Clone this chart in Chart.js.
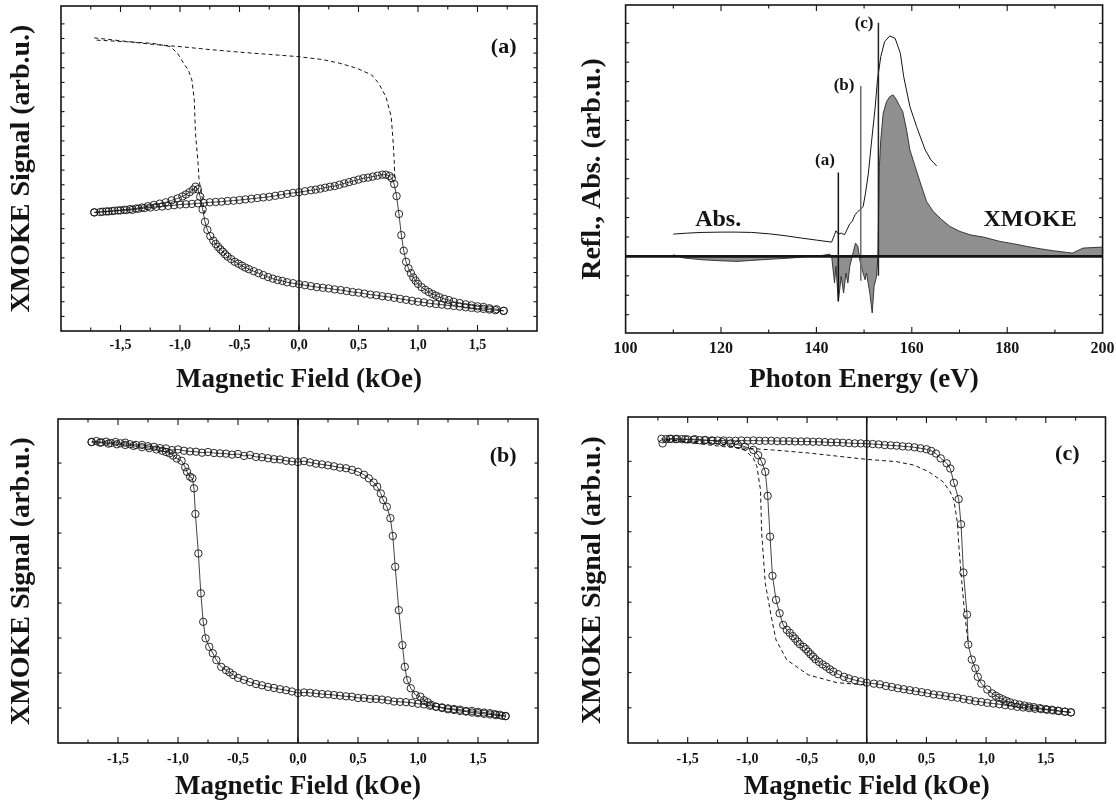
<!DOCTYPE html>
<html>
<head>
<meta charset="utf-8">
<script src="https://cdn.jsdelivr.net/npm/chart.js@4.4.1/dist/chart.umd.min.js"></script>
<style>
  html, body { margin: 0; padding: 0; background: #fff; }
  #wrap { position: relative; width: 1116px; height: 802px; }
  canvas { position: absolute; }
</style>
</head>
<body>
<div id="wrap">
  <canvas id="loopA" width="558" height="400" style="left:0;top:0"></canvas>
  <canvas id="spec" width="558" height="400" style="left:558px;top:0"></canvas>
  <canvas id="loopB" width="558" height="402" style="left:0;top:400px"></canvas>
  <canvas id="loopC" width="558" height="402" style="left:558px;top:400px"></canvas>
</div>
<script>
// --- panel (a): field (kOe) and signal (arb.u.) ---
const aUpH = [-1.72,-1.67,-1.62,-1.57,-1.52,-1.47,-1.42,-1.37,-1.32,-1.27,-1.22,-1.17,-1.12,-1.07,-1.02,
  -0.98,-0.95,-0.92,-0.89,-0.87,-0.85,-0.83,-0.81,-0.79,-0.77,-0.745,-0.72,-0.70,-0.68,-0.66,-0.64,-0.62,-0.60,
  -0.57,-0.54,-0.51,-0.48,-0.45,-0.42,-0.38,-0.34,-0.30,-0.26,-0.22,-0.18,-0.14,-0.10,
  -0.05,0,0.05,0.10,0.15,0.20,0.25,0.30,0.35,0.40,0.45,0.50,0.55,0.60,0.65,0.70,0.75,0.80,0.85,0.90,0.95,
  1.00,1.05,1.10,1.15,1.20,1.25,1.30,1.35,1.40,1.45,1.50,1.55,1.60,1.65,1.72];
const aUpS = [36.5,36.6,36.8,36.9,37.1,37.3,37.5,37.7,38.0,38.4,38.8,39.2,39.6,40.2,40.8,
  41.4,42.0,42.7,43.5,44.4,43.6,41.3,37.4,33.6,31.1,29.2,27.8,26.8,25.9,25.1,24.4,23.6,22.9,
  22.1,21.3,20.7,20.1,19.5,19.0,18.4,17.8,17.2,16.6,16.1,15.7,15.4,15.0,
  14.7,14.4,14.1,13.8,13.5,13.3,13.1,12.8,12.6,12.3,12.0,11.8,11.5,11.2,11.0,10.7,10.5,10.2,9.9,9.6,9.3,
  9.0,8.8,8.5,8.3,8.1,7.9,7.7,7.5,7.3,7.1,6.9,6.8,6.6,6.4,6.2];
const aDownH = [1.72,1.66,1.60,1.55,1.50,1.45,1.40,1.35,1.30,1.26,1.22,1.18,1.15,1.12,1.09,1.06,1.03,1.00,
  0.98,0.96,0.94,0.92,0.90,0.88,0.86,0.84,0.82,0.80,0.78,0.76,0.73,0.70,
  0.66,0.62,0.58,0.54,0.50,0.46,0.42,0.38,0.34,0.30,0.26,0.22,0.18,0.14,0.10,0.05,0,
  -0.05,-0.10,-0.15,-0.20,-0.25,-0.30,-0.35,-0.40,-0.45,-0.50,-0.55,-0.60,-0.65,-0.70,-0.75,-0.80,-0.85,
  -0.90,-0.95,-1.00,-1.05,-1.10,-1.15,-1.20,-1.25,-1.30,-1.35,-1.40,-1.45,-1.50,-1.55,-1.60,-1.65,-1.72];
const aDownS = [6.2,6.7,7.0,7.4,7.6,7.9,8.2,8.6,9.0,9.5,9.9,10.4,10.9,11.4,12.0,12.7,13.5,14.5,
  15.5,16.5,17.8,19.3,21.3,24.7,29.5,36.0,41.5,45.2,47.0,47.7,48.1,48.1,
  47.8,47.5,47.2,47.0,46.6,46.2,45.8,45.4,45.0,44.6,44.4,44.1,43.8,43.5,43.3,43.0,42.7,
  42.5,42.2,41.9,41.6,41.3,41.1,40.9,40.7,40.5,40.3,40.1,40.0,39.8,39.7,39.6,39.4,39.3,
  39.1,39.0,38.9,38.7,38.5,38.3,38.2,38.0,37.8,37.6,37.3,37.2,37.1,37.0,36.8,36.7,36.5];
const aRefUpH = [-1.72,-1.50,-1.23,-1.00,-0.75,-0.50,-0.25,0,0.20,0.34,0.49,0.61,0.67,0.73,0.775,0.79,0.80,0.805];
const aRefUpS = [90.2,89.3,88.2,87.5,86.6,85.8,85.1,84.4,83.5,82.4,80.8,78.8,76.2,72.1,65.9,58.8,52.6,46.5];
const aRefLoH = [-1.70,-1.45,-1.23,-1.08,-1.02,-0.96,-0.93,-0.90,-0.88,-0.87,-0.85,-0.84,-0.81,-0.79];
const aRefLoS = [89.5,89.0,88.5,87.5,85.4,81.8,80.3,77.2,71.1,60.8,52.6,46.5,40.3,35.2];

// --- panel (b) ---
const bUpH = [-1.72,-1.68,-1.64,-1.60,-1.56,-1.52,-1.48,-1.44,-1.40,
  -1.35,-1.30,-1.25,-1.20,-1.15,-1.10,-1.05,-1.00,-0.95,-0.90,-0.85,-0.80,-0.75,-0.70,-0.65,-0.60,-0.55,-0.50,
  -0.45,-0.40,-0.35,-0.30,-0.25,-0.20,-0.15,-0.10,-0.05,0,0.05,0.10,0.15,0.20,0.25,0.30,0.35,0.40,0.45,0.50,0.55,
  0.59,0.63,0.66,0.69,0.71,0.74,0.77,0.79,0.81,0.84,0.87,0.89,0.91,0.94,0.98,1.02,1.05,1.08,1.11,1.15,
  1.20,1.25,1.30,1.35,1.40,1.45,1.50,1.55,1.60,1.65,1.70,1.73];
const bUpS = [92.9,93.2,92.8,93.0,92.6,92.9,92.5,92.7,92.2,
  92.0,92.0,91.6,91.4,91.0,90.9,90.4,90.6,90.2,90.0,89.9,89.6,89.8,89.5,89.4,89.3,89.0,89.2,
  88.6,88.9,88.3,88.2,87.9,87.6,87.5,87.1,86.9,86.7,87.0,86.6,86.2,86.0,85.7,85.4,85.0,84.8,84.3,83.7,82.8,
  81.7,80.4,79.1,77.0,75.0,72.9,69.4,63.9,54.4,41.0,30.2,23.5,19.4,16.9,14.8,14.3,13.2,12.6,11.8,11.2,
  10.8,10.4,10.2,9.9,9.7,9.4,9.2,9.0,8.8,8.6,8.4,8.3];
const bDownH = [1.73,1.68,1.64,1.60,
  1.55,1.50,1.45,1.40,1.35,1.30,1.25,1.20,1.15,1.10,1.05,1.00,0.95,0.90,0.85,0.80,0.75,0.70,0.65,0.60,0.55,
  0.50,0.45,0.40,0.35,0.30,0.25,0.20,0.15,0.10,0.05,0,-0.05,-0.10,-0.15,-0.20,-0.25,-0.30,-0.35,-0.40,-0.45,-0.50,
  -0.54,-0.57,-0.60,-0.64,-0.68,-0.71,-0.74,-0.77,-0.79,-0.81,-0.83,-0.855,-0.867,-0.88,-0.90,-0.925,-0.94,
  -0.97,-1.01,-1.04,-1.07,-1.10,-1.13,-1.18,-1.24,-1.30,-1.37,-1.44,-1.51,-1.58,-1.65,-1.72];
const bDownS = [8.3,8.7,8.9,9.2,
  9.4,9.6,9.9,9.9,10.3,10.5,10.7,11.0,11.2,11.5,11.9,12.1,12.4,12.6,12.7,12.8,13.2,13.4,13.6,13.6,13.9,
  13.9,14.3,14.4,14.6,14.8,15.0,15.1,15.3,15.5,15.6,15.4,15.9,16.3,16.6,17.0,17.3,17.8,18.2,18.8,19.5,20.1,
  21.0,21.8,22.5,23.5,25.6,27.7,29.7,32.3,37.4,46.2,58.5,70.7,78.6,81.7,82.2,83.7,85.1,
  87.1,87.8,88.7,89.4,89.8,90.2,90.6,91.0,91.3,91.7,92.0,92.2,92.4,92.7,92.9];

// --- panel (c) ---
const cUpH = [-1.72,-1.68,-1.64,-1.60,
  -1.55,-1.50,-1.45,-1.40,-1.35,-1.30,-1.25,-1.20,-1.15,-1.10,-1.05,-1.00,-0.95,-0.90,-0.85,-0.80,-0.75,
  -0.70,-0.65,-0.60,-0.55,-0.50,-0.45,-0.40,-0.35,-0.30,-0.25,-0.20,-0.15,-0.10,-0.05,0,0.05,0.10,0.15,0.20,
  0.25,0.30,0.35,0.40,0.45,0.50,
  0.54,0.58,0.62,0.67,0.70,0.73,0.77,0.79,0.81,0.84,0.85,0.88,0.91,0.93,0.96,
  1.01,1.05,1.08,1.11,1.14,1.17,1.20,1.24,1.28,1.32,1.36,1.40,1.45,1.50,1.55,1.60,1.66,1.71];
const cUpS = [93.3,93.2,93.3,93.2,
  93.2,93.1,93.0,92.9,92.9,92.8,92.8,92.8,92.7,92.7,92.8,92.7,92.8,92.7,92.7,92.7,92.6,
  92.6,92.6,92.5,92.5,92.5,92.4,92.4,92.3,92.2,92.2,92.1,92.0,91.9,91.9,91.8,91.7,91.6,91.4,91.3,
  91.2,91.0,90.9,90.7,90.4,90.1,
  89.6,88.8,87.3,85.8,84.2,79.8,74.8,67.1,52.3,39.4,30.2,25.6,22.9,20.3,18.2,
  16.4,15.2,14.5,13.9,13.4,12.9,12.5,12.1,11.8,11.5,11.2,11.0,10.7,10.4,10.2,9.9,9.6,9.4];
const cDownH = [1.71,1.66,1.61,1.56,1.51,1.46,1.41,1.36,1.31,1.26,1.21,1.16,1.11,1.06,1.01,0.96,0.91,0.86,
  0.81,0.76,0.71,0.66,0.61,0.56,0.51,0.46,0.41,0.36,0.31,0.26,0.21,0.16,0.11,0.06,0,
  -0.05,-0.10,-0.15,-0.19,-0.24,-0.28,-0.31,-0.34,-0.37,-0.40,-0.43,-0.45,-0.47,-0.49,-0.51,-0.53,-0.56,
  -0.58,-0.60,-0.62,-0.645,-0.67,-0.70,
  -0.73,-0.76,-0.79,-0.81,-0.83,-0.85,-0.88,-0.91,-0.95,
  -1.02,-1.08,-1.14,-1.21,-1.29,-1.36,-1.44,-1.52,-1.59,-1.65,-1.71];
const cDownS = [9.4,9.6,9.8,10.0,10.2,10.4,10.5,10.7,10.9,11.1,11.4,11.6,11.9,12.1,12.3,12.6,12.8,13.2,
  13.5,13.9,14.1,14.4,14.7,14.9,15.3,15.6,15.9,16.2,16.5,16.8,17.2,17.5,18.0,18.2,18.5,
  18.9,19.3,19.8,20.3,21.1,21.9,22.6,23.4,24.1,24.9,25.7,26.5,27.2,28.0,28.8,29.5,30.3,
  31.1,32.0,32.8,33.8,34.7,36.2,
  39.8,43.9,51.3,63.3,75.8,83.2,86.3,88.3,89.9,
  90.9,91.5,91.9,92.3,92.7,92.9,93.2,93.2,93.3,93.3,91.9];
const cRefUpH = [-1.68,-1.45,-1.20,-1.00,-0.79,-0.50,-0.25,0,0.25,0.40,0.52,0.64,0.70,0.73,0.76,0.77,0.79,0.82,0.85];
const cRefUpS = [93.2,92.0,90.9,90.4,89.9,89.0,88.0,87.0,86.3,85.2,83.2,80.1,77.0,74.5,67.4,61.2,52.0,39.8,30.5];
const cRefLoH = [-1.68,-1.38,-1.17,-1.02,-0.95,-0.92,-0.89,-0.88,-0.85,-0.80,-0.76,-0.67,-0.49,-0.25,0];
const cRefLoS = [92.9,92.4,91.4,89.9,87.3,84.8,77.6,64.3,49.0,38.8,31.6,25.5,20.9,18.5,17.8];

// --- spectrum: photon energy (eV) ---
const absE = [110,113,116,120,123,126.4,130,133,136.9,140,
  143.2,143.8,144.1,144.6,145.2,145.9,146.4,147.0,147.5,148.1,
  148.7,149.3,149.8,150.3,150.9,151.6,152.3,152.8,153.5,154.3,
  155.4,156.5,157.6,158.3,159.6,161.0,162.8,164.0,165.2];
const absS = [0.67,0.70,0.72,0.73,0.73,0.72,0.68,0.63,0.55,0.49,
  0.43,0.65,0.77,0.67,0.70,0.65,0.80,0.98,1.05,1.25,
  1.35,1.42,1.50,1.90,2.50,3.50,4.45,5.30,6.00,6.45,
  6.62,6.55,6.10,5.40,4.50,3.90,3.20,2.90,2.72];
const mokeE = [110,112.3,116,119.7,123.4,126.4,130.9,134.6,138.3,141.3,
  142.8,143.2,143.8,144.1,144.6,145.2,145.7,146.2,146.6,147.0,
  147.5,148.2,148.7,149.2,149.6,150.2,150.5,151.2,151.7,152.1,
  152.6,152.9,153.2,153.5,154.0,154.7,155.4,156.1,156.8,157.5,
  158.1,158.9,159.6,160.7,161.7,163.1,164.5,166.3,168.0,170.1,
  172.2,175.0,178.5,181.3,184.1,186.9,189.7,192.5,193.7,195.9,200];
const mokeS = [0.05,-0.05,-0.10,-0.13,-0.15,-0.12,-0.08,-0.05,0,0.03,
  0.07,0,-0.8,-0.3,-1.35,-0.6,-1.1,-0.5,-0.8,-0.3,
  0,0.4,0.3,-0.2,-0.4,-0.7,-0.5,-1.1,-1.7,-0.9,
  -0.6,0,2.7,3.5,4.3,4.65,4.8,4.85,4.7,4.5,
  4.35,3.8,3.2,2.7,2.25,1.65,1.35,1.1,0.9,0.75,
  0.65,0.58,0.45,0.38,0.30,0.23,0.17,0.12,0.10,0.25,0.28];
// energies picked for the three loops, and the extent of their marker lines
const markE = [144.6, 149.3, 153.0];
const markTop = [2.52, 5.12, 7.02];
const markBottom = [-1.35, -0.73, -0.58];
const markNames = ['(a)', '(b)', '(c)'];
const markColors = ['#111', '#6e6e6e', '#222'];

const serif = "'Liberation Serif', 'Times New Roman', serif";
const ink = '#141414';

function pts(xs, ys) {
  return xs.map((x, i) => ({ x: x, y: ys[i] }));
}

function circles(xs, ys) {
  return {
    data: pts(xs, ys), borderColor: ink, borderWidth: 0.8, tension: 0, fill: false,
    pointRadius: 3.7, pointHoverRadius: 3.7, pointBorderWidth: 0.9,
    pointBorderColor: ink, pointBackgroundColor: 'rgba(0,0,0,0)'
  };
}

function dashed(xs, ys) {
  return {
    data: pts(xs, ys), borderColor: ink, borderWidth: 1, borderDash: [4, 3],
    pointRadius: 0, tension: 0, fill: false
  };
}

// frame, inward ticks, reference lines and text labels
const framePlugin = {
  id: 'frame',
  defaults: { xMajor: 1, vLine: null, hLine: null, labels: [] },
  afterDatasetsDraw(chart, args, o) {
    const ctx = chart.ctx, a = chart.chartArea;
    const xs = chart.scales.x, ys = chart.scales.y;
    const seg = (x1, y1, x2, y2) => { ctx.beginPath(); ctx.moveTo(x1, y1); ctx.lineTo(x2, y2); ctx.stroke(); };
    ctx.save();
    ctx.strokeStyle = ink;
    if (o.vLine !== null) {
      ctx.lineWidth = 1.6;
      const px = xs.getPixelForValue(o.vLine);
      seg(px, a.top, px, a.bottom);
    }
    if (o.hLine !== null) {
      ctx.lineWidth = 2.6;
      const py = ys.getPixelForValue(o.hLine);
      seg(a.left, py, a.right, py);
    }
    ctx.lineWidth = 1.1;
    xs.ticks.forEach(t => {
      const px = xs.getPixelForValue(t.value);
      if (px < a.left + 1 || px > a.right - 1) return;
      const r = t.value / o.xMajor;
      const len = Math.abs(r - Math.round(r)) < 1e-6 ? 6 : 3.5;
      seg(px, a.bottom, px, a.bottom - len);
      seg(px, a.top, px, a.top + len);
    });
    ys.ticks.forEach(t => {
      const py = ys.getPixelForValue(t.value);
      if (py < a.top + 1 || py > a.bottom - 1) return;
      seg(a.left, py, a.left + 3.5, py);
      seg(a.right, py, a.right - 3.5, py);
    });
    ctx.lineWidth = 1.6;
    ctx.strokeRect(a.left, a.top, a.right - a.left, a.bottom - a.top);
    ctx.fillStyle = ink;
    ctx.textAlign = 'center';
    ctx.textBaseline = 'middle';
    o.labels.forEach(l => {
      ctx.font = 'bold ' + l.size + 'px ' + serif;
      ctx.fillText(l.text, xs.getPixelForValue(l.x), ys.getPixelForValue(l.y));
    });
    ctx.restore();
  }
};
Chart.register(framePlugin);

function fieldLabel(v) {
  const q = Math.round(v * 4);
  if (q % 2 !== 0 || Math.abs(q) > 6) return '';
  return (q / 4).toFixed(1).replace('.', ',');
}

function loopChart(id, datasets, g, label) {
  return new Chart(document.getElementById(id), {
    type: 'line',
    data: { datasets: datasets },
    options: {
      responsive: false, animation: false, devicePixelRatio: 1,
      layout: { padding: { left: 0, right: g.padR, top: g.padT, bottom: 0 } },
      plugins: {
        legend: { display: false }, tooltip: { enabled: false },
        frame: { xMajor: 0.5, vLine: 0, labels: [label] }
      },
      scales: {
        x: {
          type: 'linear', min: -2, max: 2,
          grid: { display: false, drawTicks: false }, border: { display: false },
          ticks: {
            stepSize: 0.25, autoSkip: false, maxRotation: 0, padding: g.tickPad, color: ink,
            font: { family: serif, size: 14, weight: 'bold' },
            callback: v => fieldLabel(v)
          },
          title: {
            display: true, text: 'Magnetic Field (kOe)', color: ink,
            font: { family: serif, size: 27, weight: 'bold' },
            padding: { top: 0, bottom: g.titleB }
          },
          afterFit: s => { s.height = g.xH; s.paddingLeft = 0; s.paddingRight = 0; }
        },
        y: {
          type: 'linear', min: 0, max: 100,
          grid: { display: false, drawTicks: false }, border: { display: false },
          ticks: { display: false, stepSize: g.yStep },
          title: {
            display: true, text: 'XMOKE Signal (arb.u.)', color: ink,
            font: { family: serif, size: 28, weight: 'bold' },
            padding: { top: g.titleL, bottom: 0 }
          },
          afterFit: s => { s.width = g.yW; s.paddingTop = 0; s.paddingBottom = 0; }
        }
      }
    }
  });
}

loopChart('loopA',
  [circles(aUpH, aUpS), circles(aDownH, aDownS), dashed(aRefUpH, aRefUpS), dashed(aRefLoH, aRefLoS)],
  { padR: 21, padT: 6, xH: 69, yW: 61, tickPad: 6, titleB: 4, titleL: 5, yStep: 4.5 },
  { text: '(a)', x: 1.72, y: 87.4, size: 22 });

loopChart('loopB',
  [circles(bUpH, bUpS), circles(bDownH, bDownS)],
  { padR: 20, padT: 19, xH: 59, yW: 58, tickPad: 8, titleB: -1, titleL: 5, yStep: 10.8 },
  { text: '(b)', x: 1.71, y: 88.6, size: 22 });

loopChart('loopC',
  [circles(cUpH, cUpS), circles(cDownH, cDownS), dashed(cRefUpH, cRefUpS), dashed(cRefLoH, cRefLoS)],
  { padR: 10.5, padT: 17, xH: 59, yW: 70, tickPad: 8, titleB: -1, titleL: 18, yStep: 10.8 },
  { text: '(c)', x: 1.68, y: 88.7, size: 22 });

// spectrum panel
const markSets = markE.map((e, i) => ({
  data: pts([e, e], [markTop[i], markBottom[i]]),
  borderColor: markColors[i], borderWidth: 1.5, pointRadius: 0, fill: false
}));
const specLabels = [
  { text: 'Abs.', x: 119.4, y: 1.10, size: 24 },
  { text: 'XMOKE', x: 184.8, y: 1.10, size: 24 },
  { text: markNames[0], x: 141.8, y: 2.87, size: 17 },
  { text: markNames[1], x: 145.8, y: 5.12, size: 17 },
  { text: markNames[2], x: 150.0, y: 6.98, size: 17 }
];

new Chart(document.getElementById('spec'), {
  type: 'line',
  data: {
    datasets: markSets.concat([
      { data: pts(absE, absS), borderColor: ink, borderWidth: 1, pointRadius: 0, tension: 0, fill: false },
      { data: pts(mokeE, mokeS), borderColor: '#2a2a2a', borderWidth: 0.9, backgroundColor: '#8f8f8f',
        fill: 'origin', pointRadius: 0, tension: 0 }
    ])
  },
  options: {
    responsive: false, animation: false, devicePixelRatio: 1,
    layout: { padding: { left: 0, right: 13.4, top: 5, bottom: 0 } },
    plugins: {
      legend: { display: false }, tooltip: { enabled: false },
      frame: { xMajor: 20, hLine: 0, labels: specLabels }
    },
    scales: {
      x: {
        type: 'linear', min: 100, max: 200,
        grid: { display: false, drawTicks: false }, border: { display: false },
        ticks: {
          stepSize: 10, autoSkip: false, maxRotation: 0, padding: 6, color: ink,
          font: { family: serif, size: 16, weight: 'bold' },
          callback: v => (Math.round(v) % 20 === 0 ? String(Math.round(v)) : '')
        },
        title: {
          display: true, text: 'Photon Energy (eV)', color: ink,
          font: { family: serif, size: 27, weight: 'bold' },
          padding: { top: 0, bottom: 4 }
        },
        afterFit: s => { s.height = 67; s.paddingLeft = 0; s.paddingRight = 0; }
      },
      y: {
        type: 'linear', min: -2.3, max: 7.55,
        grid: { display: false, drawTicks: false }, border: { display: false },
        ticks: { display: false, stepSize: 0.5833 },
        title: {
          display: true, text: 'Refl., Abs. (arb.u.)', color: ink,
          font: { family: serif, size: 28, weight: 'bold' },
          padding: { top: 18, bottom: 0 }
        },
        afterFit: s => { s.width = 67.6; s.paddingTop = 0; s.paddingBottom = 0; }
      }
    }
  }
});
</script>
</body>
</html>
